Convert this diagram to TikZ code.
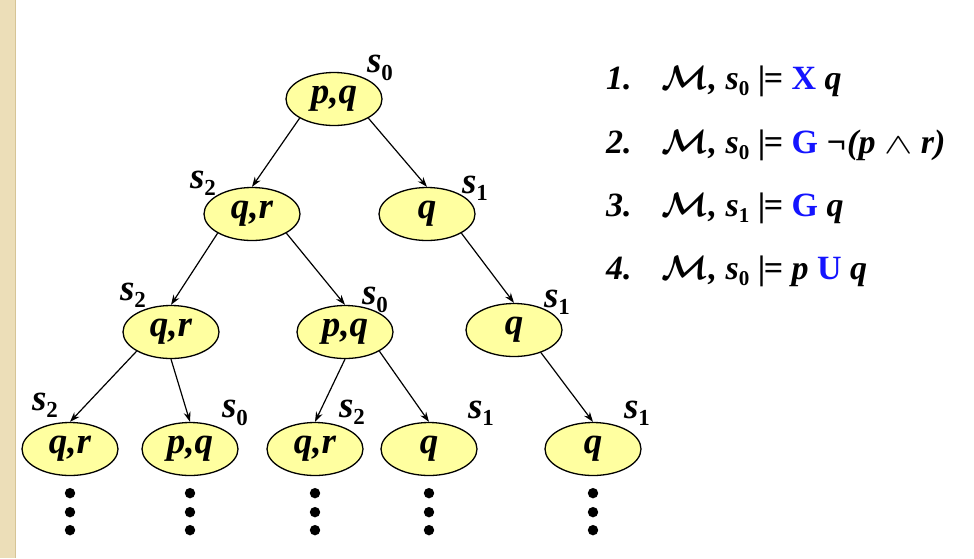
\RequirePackage{fix-cm}
\documentclass[tikz,border=0pt]{standalone}
\usepackage{fontspec}
\setmainfont{Liberation Serif}
\usepackage{amsmath}
\usepackage{bm}
\usepackage{graphicx}
\usetikzlibrary{arrows.meta}
\usetikzlibrary{shapes.geometric}

\definecolor{stateyellow}{RGB}{255,255,160}
\definecolor{opblue}{RGB}{20,20,255}
\definecolor{slidebeige}{RGB}{236,222,184}
\definecolor{slideedge}{RGB}{214,196,150}

% state name with an upright subscript
\newcommand\sname[1]{\textit{s}\raisebox{-0.2em}{\scalebox{0.62}{\upshape #1}}}
\newcommand\ent{\textup{|}\kern-1.5pt\textup{=}}

\begin{document}
\begin{tikzpicture}[x=1pt, y=-1pt,
		state/.style={ellipse, draw, line width=1.3pt, fill=stateyellow,
			minimum width=96pt, minimum height=53pt, inner sep=0pt,
			font=\fontsize{37}{40}\selectfont\bfseries\itshape},
		slabel/.style={inner sep=0pt, font=\fontsize{37}{40}\selectfont\bfseries},
		E/.style={line width=1.2pt, -{Stealth[length=10pt, width=7pt]}},
		formula/.style={anchor=base west, inner sep=0pt,
			font=\fontsize{34}{38}\selectfont\bfseries\itshape}
		]
		\useasboundingbox (0,0) rectangle (974,558);
		\fill[slidebeige] (0,0) rectangle (15,558);
		\draw[slideedge, line width=1pt] (15,0) -- (15,558);
		
		% states of the tree
		\node[state] (n0) at (334,99) {p,q};
		\node[state] (n1) at (252,214) {q,r};
		\node[state] (n2) at (427,214) {q};
		\node[state] (n3) at (171,332) {q,r};
		\node[state] (n4) at (345,332) {p,q};
		\node[state] (n5) at (514,330) {q};
		\node[state] (n6) at (70,449) {q,r};
		\node[state] (n7) at (190,449) {p,q};
		\node[state] (n8) at (315,449) {q,r};
		\node[state] (n9) at (429,449) {q};
		\node[state] (n10) at (593,449) {q};
		
		% state names
		\node[slabel] (l0) at (380,68) {\sname{0}};
		\node[slabel] (l1) at (203,183) {\sname{2}};
		\node[slabel] (l2) at (475,188) {\sname{1}};
		\node[slabel] (l3) at (133,295) {\sname{2}};
		\node[slabel] (l4) at (375,300) {\sname{0}};
		\node[slabel] (l5) at (557,302) {\sname{1}};
		\node[slabel] (l6) at (45,405) {\sname{2}};
		\node[slabel] (l7) at (235,413) {\sname{0}};
		\node[slabel] (l8) at (352,412) {\sname{2}};
		\node[slabel] (l9) at (481,413) {\sname{1}};
		\node[slabel] (l10) at (637,413) {\sname{1}};
		
		% transitions
		\draw[E] (n0.south west) -- (n1.north);
		\draw[E] (n0.south east) -- (n2.north);
		\draw[E] (n1.south west) -- (n3.north);
		\draw[E] (n1.south east) -- (n4.north);
		\draw[E] (n2.south east) -- (n5.north);
		\draw[E] (n3.south west) -- (n6.north);
		\draw[E] (n3.south) -- (n7.north);
		\draw[E] (n4.south) -- (n8.north);
		\draw[E] (n4.south east) -- (n9.north);
		\draw[E] (n5.-40) -- (n10.north);
		
		% the paths go on
		\foreach \i in {6,...,10}{
			\foreach \d in {17,36,54}{
				\fill ([yshift=-\d pt]n\i.south) circle (5.2pt);
			}
		}
		
		% formulas
		\node[formula] (f1) at (606,89) {1.\hspace{30pt}$\bm{\mathcal{M}}$, \sname{0} \ent{} \textcolor{opblue}{\textup{X}} q};
		\node[formula] (f2) at (606,153) {2.\hspace{30pt}$\bm{\mathcal{M}}$, \sname{0} \ent{} \textcolor{opblue}{\textup{G}} ¬(p \scalebox{1.25}[0.85]{$\wedge$} r)};
		\node[formula] (f3) at (606,216) {3.\hspace{30pt}$\bm{\mathcal{M}}$, \sname{1} \ent{} \textcolor{opblue}{\textup{G}} q};
		\node[formula] (f4) at (606,279) {4.\hspace{30pt}$\bm{\mathcal{M}}$, \sname{0} \ent{} p \textcolor{opblue}{\textup{U}} q};
		
	\end{tikzpicture}
\end{document}
